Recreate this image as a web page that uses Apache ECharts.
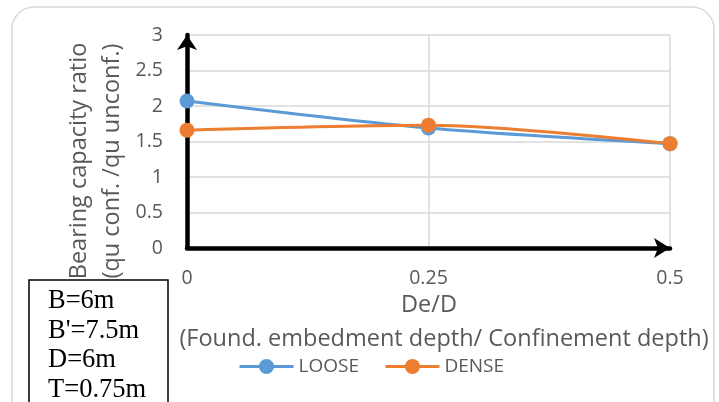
<!DOCTYPE html>
<html><head><meta charset="utf-8">
<script src="https://cdn.jsdelivr.net/npm/echarts@6/dist/echarts.min.js"></script>
<style>html,body{margin:0;padding:0;background:#fff}#c{width:719px;height:402px}</style>
</head><body><div id="c"></div>
<script>
const xValues = [0, 0.25, 0.5];
const looseValues = [2.07, 1.69, 1.47];
const denseValues = [1.66, 1.73, 1.47];
const yTitle = ['Bearing capacity ratio', '(qu conf. /qu unconf.)'];
const xTitle = ['De/D', '(Found. embedment depth/ Confinement depth)'];
const boxLines = ['B=6m', "B'=7.5m", 'D=6m', 'T=0.75m'];

const font = '"Open Sans", sans-serif';
const chart = echarts.init(document.getElementById('c'));
const pair = (xs, ys) => xs.map((x, i) => [x, ys[i]]);
chart.setOption({
  animation: false,
  backgroundColor: '#fff',
  grid: { left: 187, right: 49, top: 35, bottom: 154 },
  xAxis: {
    type: 'value', min: 0, max: 0.5, interval: 0.25,
    axisLine: { lineStyle: { color: '#000', width: 4.5 }, symbol: ['none', 'arrow'], symbolSize: [15, 16] },
    axisTick: { show: false },
    axisLabel: { margin: 20, color: '#595959', fontSize: 19.5, fontFamily: font },
    splitLine: { lineStyle: { color: '#d9d9d9', width: 1.5 } }
  },
  yAxis: {
    type: 'value', min: 0, max: 3, interval: 0.5,
    axisLine: { show: true, lineStyle: { color: '#000', width: 4.5 }, symbol: ['none', 'arrow'], symbolSize: [15, 15] },
    axisTick: { show: false },
    axisLabel: { margin: 24, color: '#595959', fontSize: 19.5, fontFamily: font },
    splitLine: { lineStyle: { color: '#d9d9d9', width: 1.5 } }
  },
  legend: {
    left: 233, top: 352, itemWidth: 54, itemHeight: 19, itemGap: 25,
    textStyle: { color: '#595959', fontSize: 19, fontFamily: font },
    lineStyle: { width: 3 },
    data: ['LOOSE', 'DENSE']
  },
  series: [
    { name: 'LOOSE', type: 'line', data: pair(xValues, looseValues), smooth: 0.3,
      symbol: 'circle', symbolSize: 15,
      lineStyle: { color: '#5b9bd5', width: 3 }, itemStyle: { color: '#5b9bd5' } },
    { name: 'DENSE', type: 'line', data: pair(xValues, denseValues), smooth: 0.3,
      symbol: 'circle', symbolSize: 15,
      lineStyle: { color: '#ed7d31', width: 3 }, itemStyle: { color: '#ed7d31' } }
  ],
  graphic: [
    { type: 'rect', silent: true, z: -1,
      shape: { x: 12, y: 7, width: 702, height: 420, r: 22 },
      style: { fill: 'none', stroke: '#d9d9d9', lineWidth: 1.5 } },
    { type: 'text', x: 79, y: 161, rotation: Math.PI / 2, silent: true,
      style: { text: yTitle[0], fill: '#595959', fontSize: 23.5, fontFamily: font, align: 'center', verticalAlign: 'middle' } },
    { type: 'text', x: 112, y: 161, rotation: Math.PI / 2, silent: true,
      style: { text: yTitle[1], fill: '#595959', fontSize: 23.5, fontFamily: font, align: 'center', verticalAlign: 'middle' } },
    { type: 'text', x: 429, y: 305, silent: true,
      style: { text: xTitle[0], fill: '#595959', fontSize: 23.5, fontFamily: font, align: 'center', verticalAlign: 'middle' } },
    { type: 'text', x: 444, y: 339, silent: true,
      style: { text: xTitle[1], fill: '#595959', fontSize: 23.5, fontFamily: font, align: 'center', verticalAlign: 'middle' } },
    { type: 'rect', silent: true, z: 10,
      shape: { x: 29, y: 280, width: 139, height: 130 },
      style: { fill: '#fff', stroke: '#000', lineWidth: 1.5 } },
    ...boxLines.map((t, i) => ({
      type: 'text', x: 48, y: 301 + i * 29.7, silent: true, z: 11,
      style: { text: t, fill: '#000', fontSize: 26.5, fontFamily: '"Liberation Serif", serif', verticalAlign: 'middle' }
    }))
  ]
});
</script></body></html>
